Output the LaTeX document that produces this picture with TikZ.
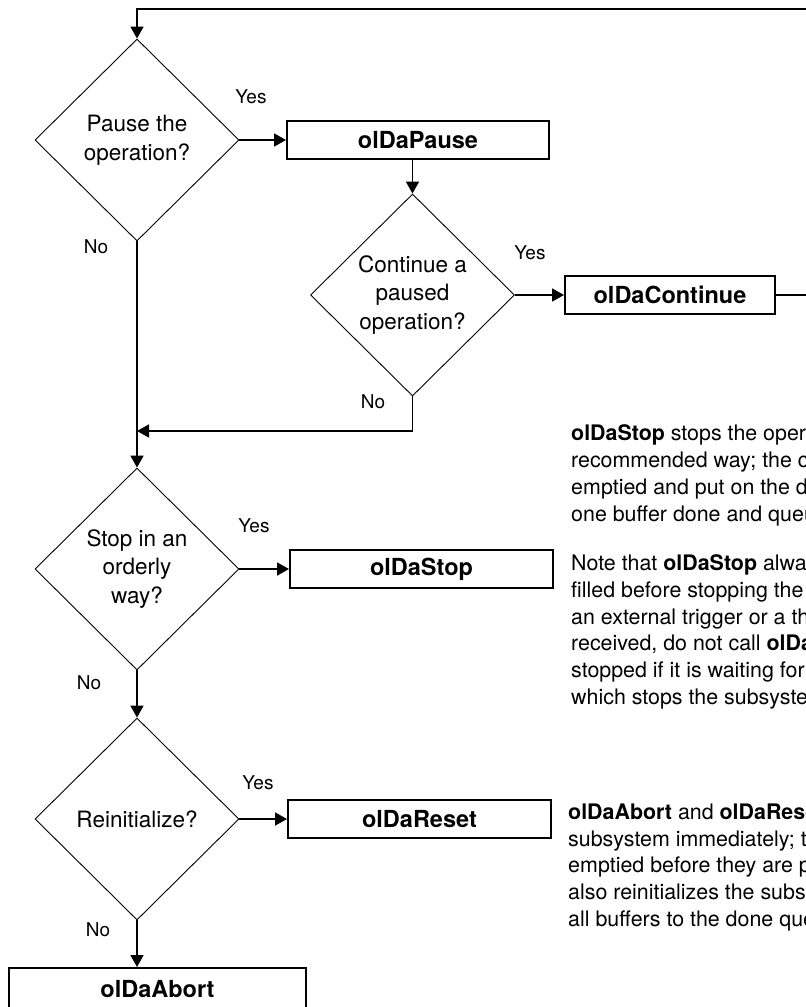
\documentclass[tikz,border=0pt]{standalone}
\usepackage{fontspec}
\setmainfont{TeX Gyre Heros}
\usetikzlibrary{shapes.geometric,arrows.meta}

\begin{document}
\begin{tikzpicture}[x=1pt,y=-1pt,
    decision/.style={draw,line width=0.9pt,diamond,aspect=1,inner sep=0pt,
      minimum width=204pt,minimum height=202pt,align=center,
      font=\fontsize{22.5}{28.5}\selectfont},
    call/.style={draw,line width=2pt,minimum height=38pt,inner sep=0pt,
      font=\fontsize{23.5}{28}\selectfont\bfseries},
    answer/.style={font=\fontsize{19}{22}\selectfont},
    note/.style={anchor=base west,align=left,inner sep=0pt,
      font=\fontsize{21.4}{26.8}\selectfont},
    flow/.style={line width=1.8pt,-{Triangle[length=12pt,width=13pt]}}]
    \path[use as bounding box,clip] (0,0) rectangle (806,1007);

    % decisions down the left
    \node[decision] (dpause) at (137,140) {Pause the\\operation?};
    \node[decision] (dcont) at (412.5,295) {Continue a\\paused\\operation?};
    \node[decision] (dstop) at (137,569) {Stop in an\\orderly\\way?};
    \node[decision] (dreset) at (137,819) {Reinitialize?};

    % calls
    \node[call,minimum width=262pt] (bpause) at (418,140) {olDaPause};
    \node[call,minimum width=210pt] (bcont) at (670,295) {olDaContinue};
    \node[call,minimum width=263pt] (bstop) at (421.5,569) {olDaStop};
    \node[call,minimum width=263pt] (breset) at (419.5,819) {olDaReset};
    \node[call,minimum width=297pt,minimum height=42pt] (babort) at (157.5,989) {olDaAbort};

    \node[answer] (yes1) at (251,97) {Yes};
    \node[answer] (no1) at (96,247) {No};
    \node[answer] (yes2) at (530,253) {Yes};
    \node[answer] (no2) at (373,402) {No};
    \node[answer] (yes3) at (254,526) {Yes};
    \node[answer] (no3) at (89,683) {No};
    \node[answer] (yes4) at (258,783) {Yes};
    \node[answer] (no4) at (98,930) {No};

    \coordinate (back) at (840,9);
    \coordinate (merge) at (137,431);

    \draw[flow] (dpause.east) -- (bpause.west);
    \draw[flow] (bpause.south -| dcont.north) -- (dcont.north);
    \draw[flow] (dcont.east) -- (bcont.west);
    \draw[flow] (bcont.east) -| (back) -| (dpause.north);
    \draw[flow] (dcont.south) |- (merge);
    \draw[flow] (dpause.south) -- (dstop.north);
    \draw[flow] (dstop.east) -- (bstop.west);
    \draw[flow] (dstop.south) -- (dreset.north);
    \draw[flow] (dreset.east) -- (breset.west);
    \draw[flow] (dreset.south) -- (dreset.south |- babort.north);

    % notes on the right (placed by the baseline of their last line)
    \node[note] (nstop) at (571,521) {\textbf{olDaStop} stops the operation in the\\
      recommended way; the current buffer is\\
      emptied and put on the done queue, and\\
      one buffer done and queue done event is posted.};
    \node[note] (nwait) at (571,704.5) {Note that \textbf{olDaStop} always waits for the\\
      filled before stopping the subsystem. If you use\\
      an external trigger or a threshold trigger that is not\\
      received, do not call \textbf{olDaStop}; the subsystem is not\\
      stopped if it is waiting for a trigger. Call \textbf{olDaAbort},\\
      which stops the subsystem immediately.};
    \node[note] (nabort) at (568,926.5) {\textbf{olDaAbort} and \textbf{olDaReset} stop the\\
      subsystem immediately; the buffers are not\\
      emptied before they are put on the done queue.\\
      also reinitializes the subsystem and moves\\
      all buffers to the done queue.};
\end{tikzpicture}
\end{document}
